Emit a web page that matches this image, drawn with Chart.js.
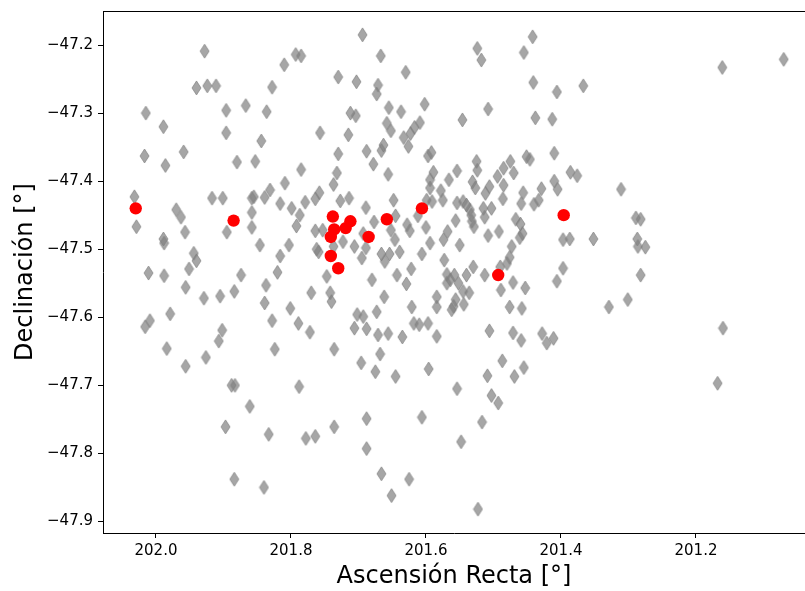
<!DOCTYPE html>
<html>
<head>
<meta charset="utf-8">
<script src="https://cdn.jsdelivr.net/npm/chart.js@4/dist/chart.umd.min.js"></script>
<style>
  html, body { margin: 0; padding: 0; background: #ffffff; }
  #wrap { width: 805px; height: 591px; }
</style>
</head>
<body>
<div id="wrap"><canvas id="c" width="805" height="591"></canvas></div>
<script>
// ---- Data ----
const grayRA = [
  201.928, 201.940, 201.924, 201.911, 202.015, 201.896, 201.867, 201.989, 201.896, 202.017,
  201.986, 201.959, 201.880, 202.032, 202.029, 201.970, 201.963, 201.957, 201.989, 201.988,
  201.944, 201.940, 201.951, 202.011, 201.988, 201.917, 201.901, 201.895, 201.874, 201.956,
  201.929, 201.905, 201.884, 202.016, 202.009, 201.979, 201.984, 201.956, 201.926, 201.907,
  201.902, 201.888, 201.883, 201.897, 201.884, 201.861, 201.810, 201.793, 201.785, 201.828,
  201.836, 201.844, 201.757, 201.853, 201.785, 201.858, 201.855, 201.839, 201.831, 201.816,
  201.809, 201.799, 201.787, 201.792, 201.779, 201.764, 201.758, 201.737, 201.858, 201.858,
  201.846, 201.803, 201.816, 201.820, 201.764, 201.753, 201.762, 201.759, 201.737, 201.747,
  201.837, 201.839, 201.828, 201.801, 201.789, 201.772, 201.770, 201.742, 201.740, 201.824,
  201.736, 201.788, 201.833, 201.778, 201.764, 201.736, 201.840, 201.732, 201.730, 201.730,
  201.694, 201.667, 201.703, 201.671, 201.673, 201.630, 201.655, 201.637, 201.712, 201.704,
  201.658, 201.652, 201.633, 201.626, 201.623, 201.617, 201.609, 201.715, 201.688, 201.678,
  201.666, 201.663, 201.656, 201.727, 201.714, 201.648, 201.689, 201.677, 201.693, 201.689,
  201.706, 201.723, 201.680, 201.645, 201.628, 201.624, 201.612, 201.652, 201.646, 201.639,
  201.654, 201.666, 201.661, 201.695, 201.643, 201.629, 201.622, 201.662, 201.673,
  201.702, 201.693, 201.688, 201.706, 201.671, 201.656, 201.635, 201.668, 201.696, 201.675,
  201.645, 201.688, 201.688, 201.666, 201.625, 201.651, 201.606, 201.621, 201.618, 201.610,
  201.606, 201.594, 201.600, 201.524, 201.518, 201.442, 201.455, 201.441, 201.406, 201.602,
  201.546, 201.508, 201.438, 201.413, 201.597, 201.592, 201.589, 201.594, 201.594, 201.599,
  201.591, 201.578, 201.575, 201.566, 201.554, 201.525, 201.524, 201.531, 201.527, 201.512,
  201.506, 201.494, 201.485, 201.475, 201.470, 201.485, 201.486, 201.451, 201.446, 201.410,
  201.410, 201.405, 201.386, 201.376, 201.456, 201.429, 201.440, 201.433, 201.459, 201.467,
  201.460, 201.457, 201.461, 201.473, 201.476, 201.480, 201.490, 201.508, 201.492, 201.513,
  201.515, 201.503, 201.529, 201.535, 201.533, 201.532, 201.540, 201.545, 201.554, 201.556,
  201.568, 201.574, 201.550, 201.530, 201.573, 201.569, 201.558, 201.540, 201.397, 201.397,
  201.513, 201.489, 201.471, 201.453, 201.476, 201.458, 201.506, 201.471, 201.459, 201.428,
  201.421, 201.411, 201.406, 201.564, 201.569, 201.552, 201.556, 201.559, 201.562, 201.545,
  201.536, 201.544, 201.584, 201.584, 201.597, 201.584, 201.596, 201.487, 201.509, 201.469,
  201.455, 201.554, 201.503, 201.493, 201.517, 201.548, 201.523, 201.367, 201.161, 201.070,
  201.311, 201.289, 201.282, 201.387, 201.352, 201.287, 201.286, 201.275, 201.282, 201.329,
  201.301, 201.160, 201.168
];
const grayDec = [
  -47.209, -47.263, -47.260, -47.260, -47.300, -47.296, -47.289, -47.320, -47.329, -47.363,
  -47.377, -47.357, -47.372, -47.423, -47.467, -47.442, -47.453, -47.475, -47.485, -47.491,
  -47.506, -47.517, -47.529, -47.535, -47.539, -47.425, -47.425, -47.475, -47.538, -47.556,
  -47.572, -47.569, -47.562, -47.614, -47.605, -47.595, -47.646, -47.672, -47.659, -47.635,
  -47.619, -47.700, -47.700, -47.761, -47.838, -47.731, -47.229, -47.214, -47.216, -47.262,
  -47.298, -47.341, -47.329, -47.371, -47.383, -47.425, -47.423, -47.424, -47.413, -47.433,
  -47.403, -47.440, -47.450, -47.466, -47.431, -47.426, -47.417, -47.405, -47.446, -47.468,
  -47.494, -47.494, -47.510, -47.534, -47.473, -47.472, -47.500, -47.504, -47.496, -47.540,
  -47.553, -47.579, -47.605, -47.587, -47.609, -47.622, -47.564, -47.564, -47.577, -47.647,
  -47.647, -47.702, -47.772, -47.778, -47.775, -47.761, -47.850, -47.388, -47.360, -47.247,
  -47.185, -47.216, -47.254, -47.259, -47.272, -47.240, -47.292, -47.298, -47.300, -47.304,
  -47.315, -47.326, -47.336, -47.349, -47.330, -47.321, -47.314, -47.332, -47.356, -47.375,
  -47.355, -47.347, -47.390, -47.429, -47.425, -47.428, -47.439, -47.460, -47.477, -47.498,
  -47.496, -47.489, -47.545, -47.451, -47.464, -47.473, -47.451, -47.472, -47.486, -47.504,
  -47.507, -47.507, -47.518, -47.513, -47.538, -47.551, -47.529, -47.570, -47.592,
  -47.596, -47.599, -47.617, -47.616, -47.626, -47.624, -47.629, -47.654, -47.667, -47.680,
  -47.687, -47.749, -47.793, -47.830, -47.838, -47.862, -47.747, -47.585, -47.609, -47.611,
  -47.507, -47.491, -47.468, -47.205, -47.222, -47.188, -47.211, -47.255, -47.269, -47.287,
  -47.310, -47.294, -47.307, -47.309, -47.363, -47.358, -47.387, -47.398, -47.410, -47.428,
  -47.430, -47.414, -47.428, -47.398, -47.385, -47.371, -47.384, -47.401, -47.410, -47.418,
  -47.408, -47.393, -47.381, -47.371, -47.388, -47.406, -47.426, -47.364, -47.368, -47.359,
  -47.400, -47.412, -47.387, -47.392, -47.417, -47.411, -47.434, -47.428, -47.433, -47.456,
  -47.463, -47.477, -47.483, -47.496, -47.512, -47.521, -47.526, -47.480, -47.474, -47.453,
  -47.440, -47.440, -47.467, -47.442, -47.450, -47.459, -47.435, -47.430, -47.432, -47.458,
  -47.474, -47.486, -47.494, -47.526, -47.516, -47.537, -47.538, -47.538, -47.528, -47.486,
  -47.538, -47.560, -47.549, -47.557, -47.585, -47.587, -47.620, -47.623, -47.634, -47.624,
  -47.638, -47.631, -47.547, -47.545, -47.550, -47.550, -47.574, -47.584, -47.589, -47.562,
  -47.564, -47.581, -47.570, -47.585, -47.609, -47.628, -47.676, -47.664, -47.686, -47.687,
  -47.674, -47.705, -47.715, -47.726, -47.754, -47.783, -47.882, -47.260, -47.233, -47.221,
  -47.412, -47.454, -47.456, -47.485, -47.485, -47.485, -47.496, -47.497, -47.538, -47.585,
  -47.574, -47.616, -47.697
];
const redRA  = [202.030, 201.885, 201.738, 201.736, 201.741, 201.741, 201.730, 201.712, 201.719, 201.685, 201.658, 201.606, 201.493, 201.396];
const redDec = [-47.440, -47.458, -47.452, -47.471, -47.482, -47.510, -47.528, -47.459, -47.469, -47.482, -47.456, -47.440, -47.538, -47.450];

const xTicks = [202.0, 201.8, 201.6, 201.4, 201.2];
const yTicks = [-47.2, -47.3, -47.4, -47.5, -47.6, -47.7, -47.8, -47.9];
const xRange = [201.0385, 202.0785];
const yRange = [-47.917, -47.150];
const xTitle = 'Ascensión Recta [°]';
const yTitle = 'Declinación [°]';

// ---- Build points ----
const grayPts = grayRA.map((v, i) => ({ x: v, y: grayDec[i] }));
const redPts = redRA.map((v, i) => ({ x: v, y: redDec[i] }));

// thin diamond marker image (matplotlib 'd')
function thinDiamond(w, h, color) {
  const c = document.createElement('canvas');
  c.width = w + 2; c.height = h + 2;
  const g = c.getContext('2d');
  const cx = c.width / 2, cy = c.height / 2;
  g.beginPath();
  g.moveTo(cx, cy - h / 2);
  g.lineTo(cx + w / 2, cy);
  g.lineTo(cx, cy + h / 2);
  g.lineTo(cx - w / 2, cy);
  g.closePath();
  g.fillStyle = color;
  g.fill();
  g.lineWidth = 1;
  g.strokeStyle = color;
  g.stroke();
  return c;
}
const diamond = thinDiamond(9, 14, 'rgba(128,128,128,0.7)');

const FONT = "'DejaVu Sans', sans-serif";
const fmtMinus = (v, d) => Number(v).toFixed(d).replace('-', '\u2212');
const noPad = (s) => { s.paddingLeft = 0; s.paddingRight = 0; s.paddingTop = 0; s.paddingBottom = 0; };

const topSpine = {
  id: 'topSpine',
  afterDraw(chart) {
    const { ctx, chartArea } = chart;
    ctx.save();
    ctx.strokeStyle = '#000';
    ctx.lineWidth = 1;
    ctx.beginPath();
    ctx.moveTo(chartArea.left, chartArea.top + 0.5);
    ctx.lineTo(chartArea.right, chartArea.top + 0.5);
    ctx.stroke();
    ctx.restore();
  }
};

new Chart(document.getElementById('c'), {
  type: 'scatter',
  data: {
    datasets: [
      { label: 'red', data: redPts, pointStyle: 'circle', pointRadius: 6.2,
        backgroundColor: '#ff0000', borderColor: '#ff0000', borderWidth: 0 },
      { label: 'gray', data: grayPts, pointStyle: diamond, pointRadius: 5 }
    ]
  },
  options: {
    responsive: false,
    animation: false,
    events: [],
    layout: { autoPadding: false, padding: { left: 0, right: 0, top: 11, bottom: 0 } },
    plugins: { legend: { display: false }, tooltip: { enabled: false } },
    scales: {
      x: {
        type: 'linear',
        reverse: true,
        min: xRange[0], max: xRange[1],
        afterBuildTicks: (s) => { s.ticks = xTicks.map(v => ({ value: v })); },
        afterFit: (s) => { s.height = 58; noPad(s); },
        ticks: { color: '#000', font: { family: FONT, size: 15 }, padding: 4,
                 maxRotation: 0, autoSkip: false,
                 callback: (v) => fmtMinus(v, 1) },
        grid: { drawOnChartArea: false, drawTicks: true, tickLength: 5, tickColor: '#000' },
        border: { display: true, color: '#000', width: 1 },
        title: { display: true, text: xTitle, color: '#000',
                 font: { family: FONT, size: 24 }, padding: { top: 0, bottom: 0 } }
      },
      y: {
        type: 'linear',
        min: yRange[0], max: yRange[1],
        afterBuildTicks: (s) => { s.ticks = yTicks.map(v => ({ value: v })); },
        afterFit: (s) => { s.width = 103; noPad(s); },
        ticks: { color: '#000', font: { family: FONT, size: 15 }, padding: 5,
                 autoSkip: false,
                 callback: (v) => fmtMinus(v, 1) },
        grid: { drawOnChartArea: false, drawTicks: true, tickLength: 5, tickColor: '#000' },
        border: { display: true, color: '#000', width: 1 },
        title: { display: true, text: yTitle, color: '#000',
                 font: { family: FONT, size: 24 }, padding: { top: 11, bottom: 0 } }
      }
    }
  },
  plugins: [topSpine]
});
</script>
</body>
</html>
